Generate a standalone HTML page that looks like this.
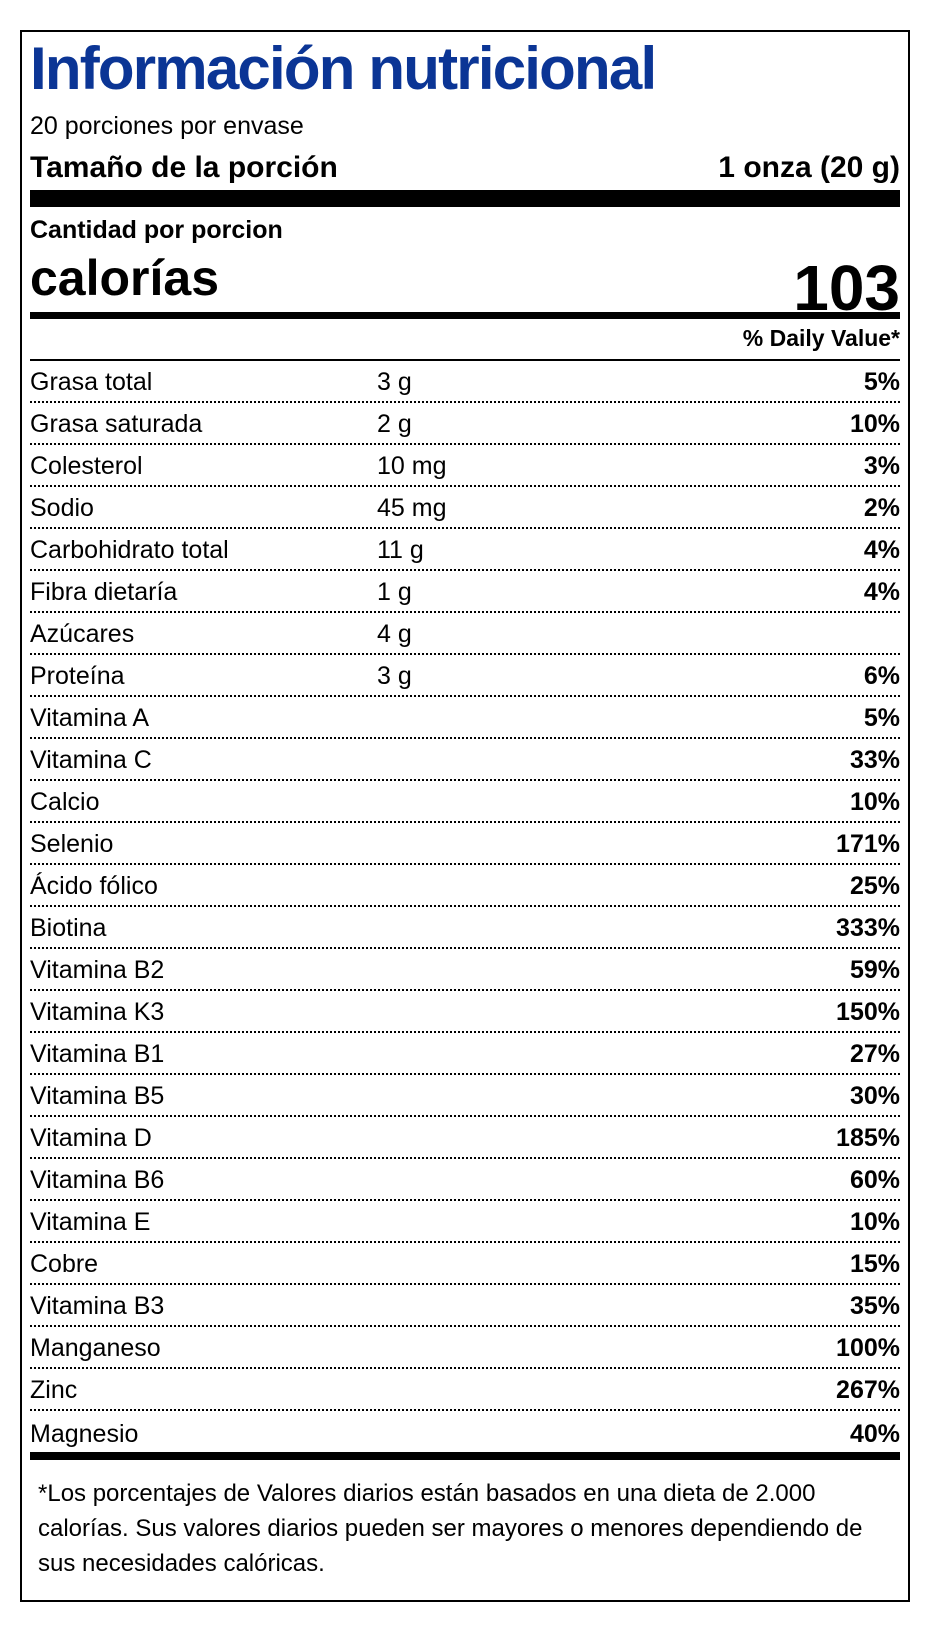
<!DOCTYPE html>
<html><head><meta charset="utf-8"><style>
*{margin:0;padding:0;box-sizing:border-box}
body{width:940px;height:1633px;background:#fff;position:relative;font-family:"Liberation Sans",Arial,sans-serif;color:#000;overflow:hidden}
.box{position:absolute;left:20px;top:30px;width:890px;height:1572px;border:2px solid #000}
.t{position:absolute;white-space:nowrap;line-height:1}
.bar{position:absolute;left:30px;width:870px;background:#000}
.row{position:absolute;left:30px;width:870px;height:42px;border-bottom:2px dotted #000;font-size:25px}
.row span{position:absolute;bottom:6px;line-height:1}
.row .n{left:0}.row .v{left:347px}.row .p{right:0;font-weight:bold}
</style></head><body>
<div class="box"></div>
<div class="t" style="left:30px;top:39px;font-size:60px;color:#0b3595;letter-spacing:-1.8px;font-weight:bold">Información nutricional</div>
<div class="t" style="left:30px;top:114px;font-size:25px">20 porciones por envase</div>
<div class="t" style="left:30px;top:153px;font-size:30px;font-weight:bold">Tamaño de la porción</div>
<div class="t" style="right:40px;top:153px;font-size:30px;font-weight:bold">1 onza (20 g)</div>
<div class="bar" style="top:190px;height:17px"></div>
<div class="t" style="left:30px;top:218px;font-size:25px;font-weight:bold">Cantidad por porcion</div>
<div class="t" style="left:30px;top:253px;font-size:50px;font-weight:bold">calorías</div>
<div class="t" style="right:40px;top:256px;font-size:64px;font-weight:bold">103</div>
<div class="bar" style="top:312px;height:7px"></div>
<div class="t" style="right:40px;top:327px;font-size:23px;font-weight:bold">% Daily Value*</div>
<div class="bar" style="top:359px;height:2px"></div>
<div class="t" style="left:38px;top:1476px;font-size:24px;line-height:35px">*Los porcentajes de Valores diarios están basados en una dieta de 2.000<br>calorías. Sus valores diarios pueden ser mayores o menores dependiendo de<br>sus necesidades calóricas.</div>
<div class="bar" style="top:1452px;height:8px"></div>
<div class="row" style="top:361px"><span class="n">Grasa total</span><span class="v">3 g</span><span class="p">5%</span></div>
<div class="row" style="top:403px"><span class="n">Grasa saturada</span><span class="v">2 g</span><span class="p">10%</span></div>
<div class="row" style="top:445px"><span class="n">Colesterol</span><span class="v">10 mg</span><span class="p">3%</span></div>
<div class="row" style="top:487px"><span class="n">Sodio</span><span class="v">45 mg</span><span class="p">2%</span></div>
<div class="row" style="top:529px"><span class="n">Carbohidrato total</span><span class="v">11 g</span><span class="p">4%</span></div>
<div class="row" style="top:571px"><span class="n">Fibra dietaría</span><span class="v">1 g</span><span class="p">4%</span></div>
<div class="row" style="top:613px"><span class="n">Azúcares</span><span class="v">4 g</span><span class="p"></span></div>
<div class="row" style="top:655px"><span class="n">Proteína</span><span class="v">3 g</span><span class="p">6%</span></div>
<div class="row" style="top:697px"><span class="n">Vitamina A</span><span class="p">5%</span></div>
<div class="row" style="top:739px"><span class="n">Vitamina C</span><span class="p">33%</span></div>
<div class="row" style="top:781px"><span class="n">Calcio</span><span class="p">10%</span></div>
<div class="row" style="top:823px"><span class="n">Selenio</span><span class="p">171%</span></div>
<div class="row" style="top:865px"><span class="n">Ácido fólico</span><span class="p">25%</span></div>
<div class="row" style="top:907px"><span class="n">Biotina</span><span class="p">333%</span></div>
<div class="row" style="top:949px"><span class="n">Vitamina B2</span><span class="p">59%</span></div>
<div class="row" style="top:991px"><span class="n">Vitamina K3</span><span class="p">150%</span></div>
<div class="row" style="top:1033px"><span class="n">Vitamina B1</span><span class="p">27%</span></div>
<div class="row" style="top:1075px"><span class="n">Vitamina B5</span><span class="p">30%</span></div>
<div class="row" style="top:1117px"><span class="n">Vitamina D</span><span class="p">185%</span></div>
<div class="row" style="top:1159px"><span class="n">Vitamina B6</span><span class="p">60%</span></div>
<div class="row" style="top:1201px"><span class="n">Vitamina E</span><span class="p">10%</span></div>
<div class="row" style="top:1243px"><span class="n">Cobre</span><span class="p">15%</span></div>
<div class="row" style="top:1285px"><span class="n">Vitamina B3</span><span class="p">35%</span></div>
<div class="row" style="top:1327px"><span class="n">Manganeso</span><span class="p">100%</span></div>
<div class="row" style="top:1369px"><span class="n">Zinc</span><span class="p">267%</span></div>
<div class="row" style="top:1411px;border-bottom:none"><span class="n">Magnesio</span><span class="p">40%</span></div>
</body></html>
